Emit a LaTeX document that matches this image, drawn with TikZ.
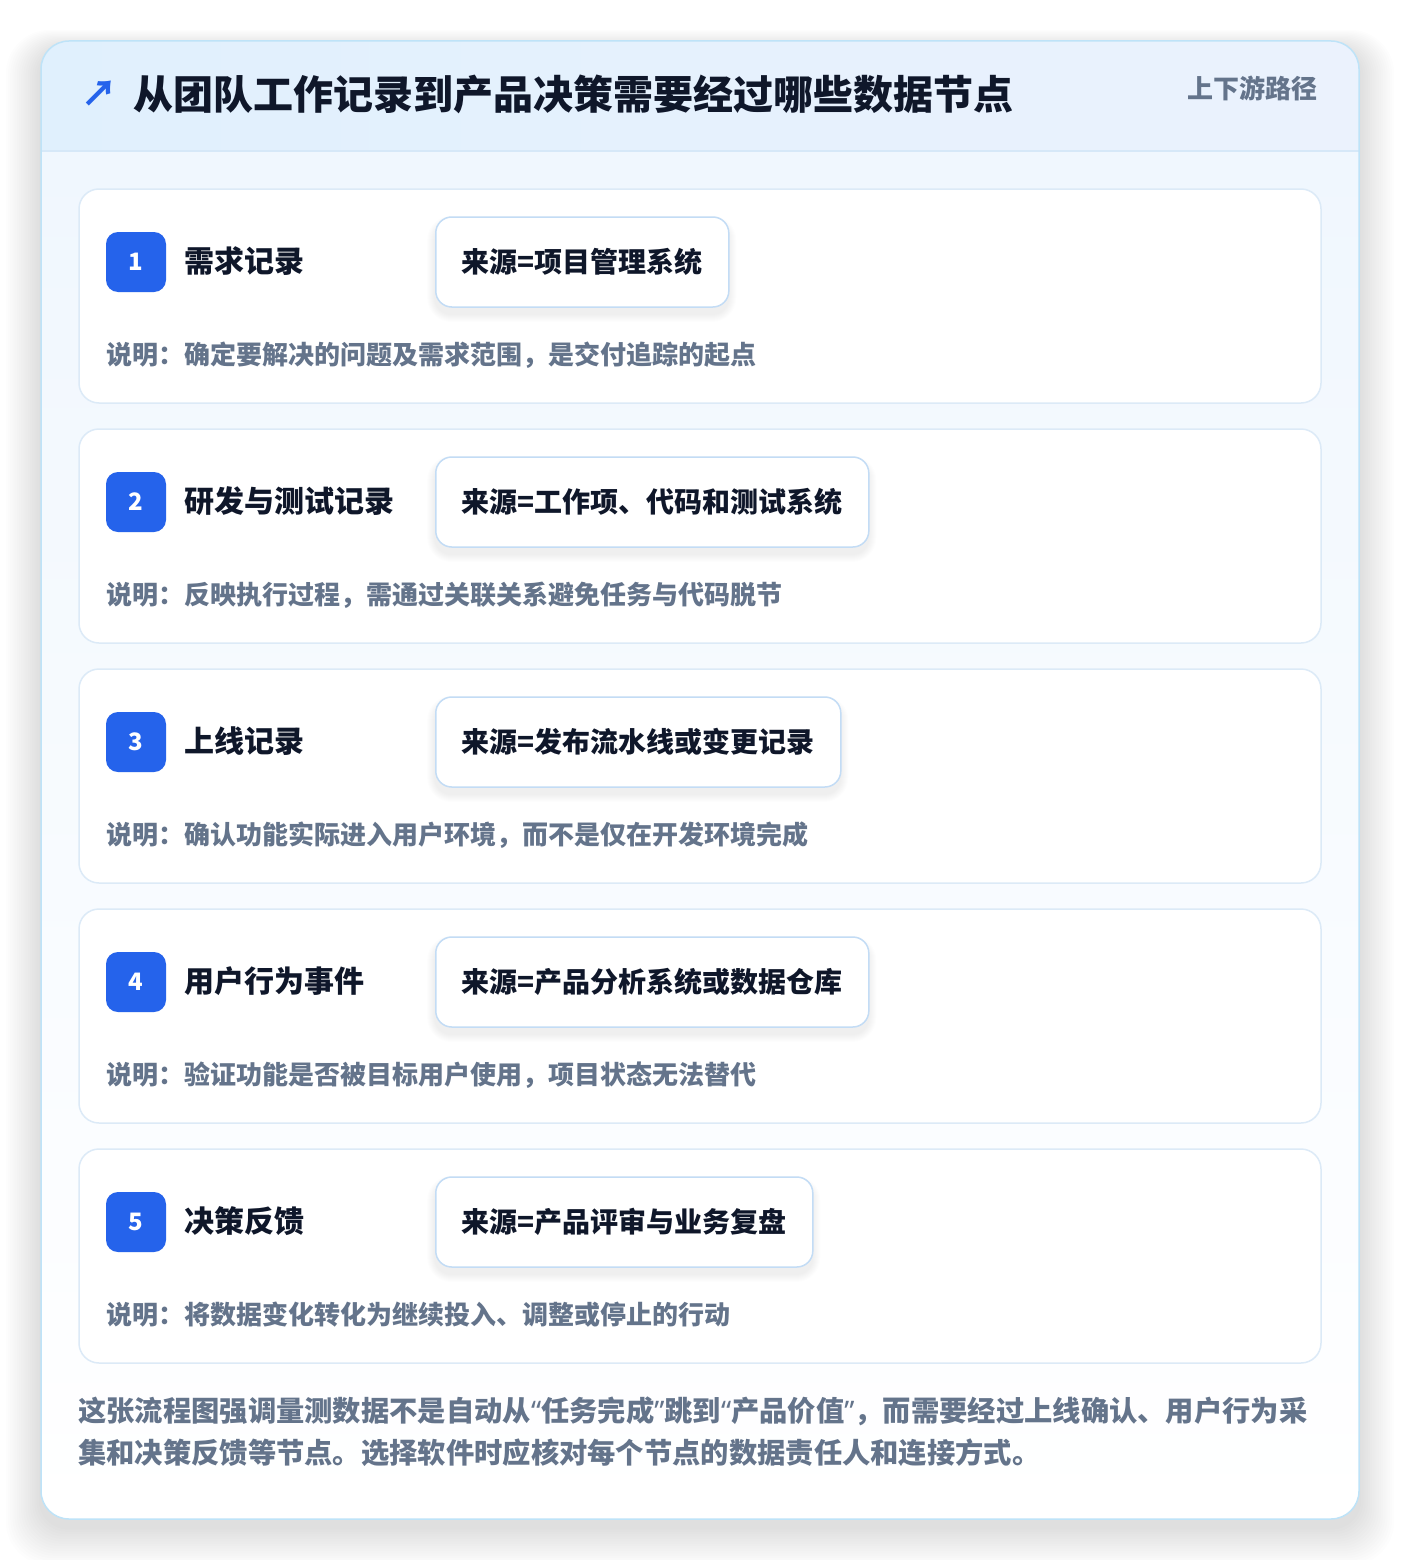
\documentclass[tikz,border=0pt]{standalone}
\usepackage{fontspec}
\setmainfont{Noto Sans CJK SC}
\newfontfamily\latinq{Noto Sans}
\newcommand\myLq{{\latinq\bfseries “}}
\newcommand\myRq{{\latinq\bfseries ”}}
\definecolor{badgeblue}{HTML}{2563EB}
\definecolor{ink}{HTML}{0F172A}
\definecolor{muted}{HTML}{64748B}
\definecolor{outerline}{HTML}{BEE3F8}
\definecolor{cardline}{HTML}{DCEAF7}
\definecolor{srcline}{HTML}{C3DCF5}
\definecolor{headL}{HTML}{E0F0FD}
\definecolor{headR}{HTML}{EBF2FD}
\definecolor{headline}{HTML}{D6E8F8}
\definecolor{bodytop}{HTML}{F0F7FE}
\tikzset{
  cardbox/.style={draw=cardline, line width=1.5pt, fill=white, rounded corners=20pt},
  badgebox/.style={fill=badgeblue, rounded corners=12pt, minimum width=60pt, minimum height=60pt, inner sep=0pt, text=white, font=\fontsize{24}{28}\selectfont\bfseries},
  cardtitle/.style={anchor=west, inner sep=0pt, text=ink, font=\fontsize{30}{36}\selectfont\bfseries},
  srcbox/.style={anchor=west, draw=srcline, line width=1.5pt, fill=white, rounded corners=16pt, minimum height=90pt, inner xsep=26pt, inner ysep=0pt, text=ink, font=\fontsize{28}{34}\selectfont\bfseries},
  srcshadow/.style={anchor=west, fill=black, draw=none, fill opacity=0.008, minimum height=90pt+2*#1 pt, inner xsep=26pt+#1 pt, inner ysep=0pt, rounded corners=16pt+#1 pt, font=\fontsize{28}{34}\selectfont\bfseries},
  desctext/.style={anchor=west, inner sep=0pt, text=muted, font=\fontsize{26}{32}\selectfont\bfseries},
}
\begin{document}
\begin{tikzpicture}[x=1pt,y=-1pt]
\useasboundingbox (0,0) rectangle (1400,1560);
\fill[white] (0,0) rectangle (1400,1560);
% outer shadow
\foreach \i in {1,...,16}{
  \fill[black, opacity=0.006, rounded corners=28pt+\i pt] (41-2.2*\i, 41+8-1.2*\i) rectangle (1359+2.2*\i, 1519+8+2.4*\i);
}
% outer card
\begin{scope}
  \clip[rounded corners=28pt] (41,41) rectangle (1359,1519);
  \shade[top color=bodytop, bottom color=white] (41,151) rectangle (1359,1519);
  \shade[left color=headL, right color=headR] (41,41) rectangle (1359,151);
  \draw[headline, line width=1.5pt] (41,151) -- (1359,151);
\end{scope}
\draw[outerline, line width=1.5pt, rounded corners=28pt] (41,41) rectangle (1359,1519);
% header
\node[anchor=center, inner sep=0pt, text=badgeblue, font=\fontsize{36}{40}\selectfont\bfseries] (arrow) at (99,94) {↗};
\node[anchor=west, inner sep=0pt, text=ink, font=\fontsize{40}{48}\selectfont\bfseries] (title) at (133,94) {从团队工作记录到产品决策需要经过哪些数据节点};
\node[anchor=east, inner sep=0pt, text=muted, font=\fontsize{26}{30}\selectfont\bfseries] (tag) at (1318,88) {上下游路径};
% cards
\foreach \n/\t/\s/\d [count=\k from 0] in {
  1/需求记录/来源=项目管理系统/说明：确定要解决的问题及需求范围，是交付追踪的起点,
  2/研发与测试记录/来源=工作项、代码和测试系统/说明：反映执行过程，需通过关联关系避免任务与代码脱节,
  3/上线记录/来源=发布流水线或变更记录/说明：确认功能实际进入用户环境，而不是仅在开发环境完成,
  4/用户行为事件/来源=产品分析系统或数据仓库/说明：验证功能是否被目标用户使用，项目状态无法替代,
  5/决策反馈/来源=产品评审与业务复盘/说明：将数据变化转化为继续投入、调整或停止的行动}{
  \pgfmathsetmacro\yy{189+240*\k}
  \draw[cardbox] (79,\yy) rectangle (1321,\yy+214);
  \node[badgebox] (badge\n) at (136,\yy+73) {\n};
  \node[cardtitle] (title\n) at (184,\yy+72) {\t};
  \foreach \j in {1,...,8}{
    \node[srcshadow=\j] (sh\n\j) at (435-\j,\yy+73+7) {\phantom{\s}};
  }
  \node[srcbox] (src\n) at (435,\yy+73) {\s};
  \node[desctext] (desc\n) at (106,\yy+166) {\d};
}
% footer
\node[anchor=west, inner sep=0pt, text=muted, font=\fontsize{28.3}{34}\selectfont\bfseries] (foot1) at (78,1411) {这张流程图强调量测数据不是自动从\myLq 任务完成\myRq 跳到\myLq 产品价值\myRq ，而需要经过上线确认、用户行为采};
\node[anchor=west, inner sep=0pt, text=muted, font=\fontsize{28.3}{34}\selectfont\bfseries] (foot2) at (78,1453) {集和决策反馈等节点。选择软件时应核对每个节点的数据责任人和连接方式。};
\end{tikzpicture}
\end{document}
